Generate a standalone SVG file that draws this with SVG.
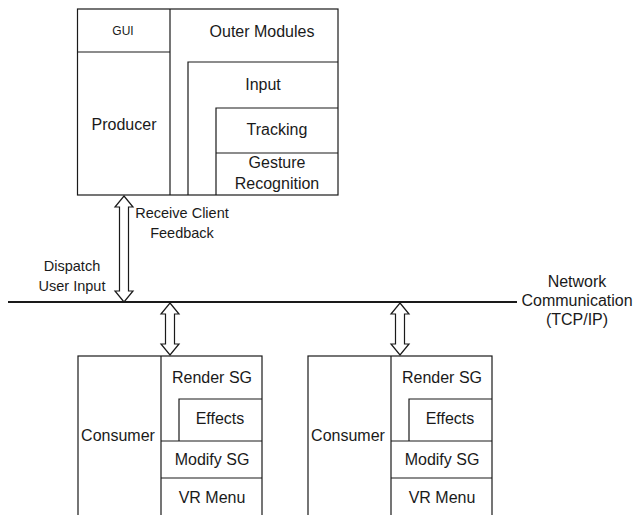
<svg xmlns="http://www.w3.org/2000/svg" width="634" height="515" viewBox="0 0 634 515">
  <style>
    .box { fill: #ffffff; stroke: #1a1a1a; stroke-width: 1.2; }
    .ln { fill: none; stroke: #1a1a1a; stroke-width: 1.2; }
    .bus { fill: none; stroke: #1a1a1a; stroke-width: 2.2; }
    .arrow { fill: #ffffff; stroke: #1a1a1a; stroke-width: 1.2; stroke-linejoin: miter; }
    text { font-family: "Liberation Sans", Arial, sans-serif; fill: #1a1a1a; text-anchor: middle; }
    .t16 { font-size: 16px; }
    .t14 { font-size: 14.5px; }
    .t12 { font-size: 12px; }
  </style>

  <rect width="634" height="515" fill="#ffffff"/>

  <!-- Producer with outer modules -->
  <g id="producer">
    <rect class="box" x="77.5" y="9" width="260.5" height="186"/>
    <line class="ln" x1="170" y1="9" x2="170" y2="195"/>
    <line class="ln" x1="77.5" y1="52" x2="170" y2="52"/>
    <polyline class="ln" points="188,195 188,62 338,62"/>
    <polyline class="ln" points="216,195 216,108 338,108"/>
    <line class="ln" x1="216" y1="153" x2="338" y2="153"/>
    <text class="t12" x="123" y="35">GUI</text>
    <text class="t16" x="124" y="130">Producer</text>
    <text class="t16" x="262" y="37">Outer Modules</text>
    <text class="t16" x="263" y="90">Input</text>
    <text class="t16" x="277" y="135">Tracking</text>
    <text class="t16" x="277" y="168">Gesture</text>
    <text class="t16" x="277" y="189">Recognition</text>
  </g>

  <!-- Network bus and links -->
  <g id="connectors">
    <line class="bus" x1="8" y1="302" x2="517" y2="302"/>
    <path class="arrow" d="M124,196 L133,207 L128.5,207 L128.5,291 L133,291 L124,302 L115,291 L119.5,291 L119.5,207 L115,207 Z"/>
    <path class="arrow" d="M170,303 L179,314 L174.5,314 L174.5,344 L179,344 L170,355 L161,344 L165.5,344 L165.5,314 L161,314 Z"/>
    <path class="arrow" d="M400,303 L409,314 L404.5,314 L404.5,344 L409,344 L400,355 L391,344 L395.5,344 L395.5,314 L391,314 Z"/>
    <text class="t14" x="182" y="218">Receive Client</text>
    <text class="t14" x="182" y="238">Feedback</text>
    <text class="t14" x="72" y="271">Dispatch</text>
    <text class="t14" x="72" y="291">User Input</text>
    <text class="t16" x="577" y="287">Network</text>
    <text class="t16" x="577" y="306">Communication</text>
    <text class="t16" x="577" y="325">(TCP/IP)</text>
  </g>

  <!-- Consumer 1 -->
  <g id="consumer1">
    <rect class="box" x="78" y="356" width="184" height="170"/>
    <line class="ln" x1="161" y1="356" x2="161" y2="515"/>
    <polyline class="ln" points="179,441 179,399 262,399"/>
    <line class="ln" x1="161" y1="441" x2="262" y2="441"/>
    <line class="ln" x1="161" y1="478" x2="262" y2="478"/>
    <text class="t16" x="118" y="441">Consumer</text>
    <text class="t16" x="212" y="383">Render SG</text>
    <text class="t16" x="220" y="424">Effects</text>
    <text class="t16" x="212" y="465">Modify SG</text>
    <text class="t16" x="212" y="503">VR Menu</text>
  </g>

  <!-- Consumer 2 -->
  <g id="consumer2">
    <rect class="box" x="308" y="356" width="184" height="170"/>
    <line class="ln" x1="391" y1="356" x2="391" y2="515"/>
    <polyline class="ln" points="409,441 409,399 492,399"/>
    <line class="ln" x1="391" y1="441" x2="492" y2="441"/>
    <line class="ln" x1="391" y1="478" x2="492" y2="478"/>
    <text class="t16" x="348" y="441">Consumer</text>
    <text class="t16" x="442" y="383">Render SG</text>
    <text class="t16" x="450" y="424">Effects</text>
    <text class="t16" x="442" y="465">Modify SG</text>
    <text class="t16" x="442" y="503">VR Menu</text>
  </g>
</svg>
